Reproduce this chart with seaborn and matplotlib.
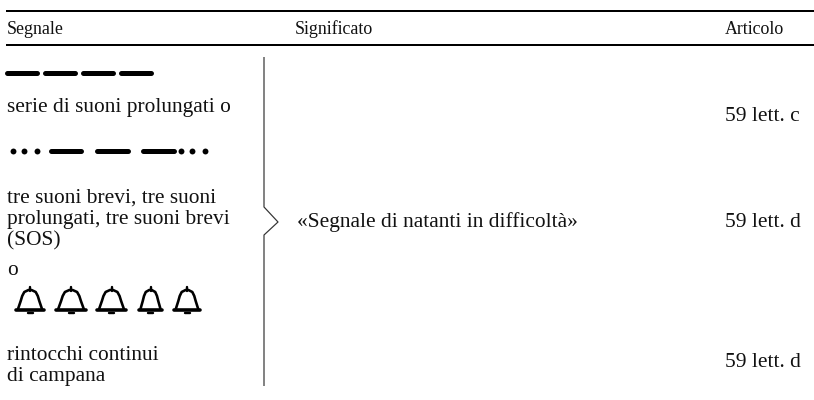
import matplotlib
matplotlib.use('Agg')
import matplotlib.pyplot as plt
import seaborn as sns
import numpy as np

sns.set_style('white')
plt.rcParams['font.family'] = ['Liberation Serif', 'DejaVu Serif']

# table text
headers = ['Segnale', 'Significato', 'Articolo']
header_x = [7, 295, 725]
left_lines = ['serie di suoni prolungati o',
              'tre suoni brevi, tre suoni',
              'prolungati, tre suoni brevi',
              '(SOS)',
              'o',
              'rintocchi continui',
              'di campana']
left_y = [112, 203, 224, 245, 275, 360, 381]
meaning = '«Segnale di natanti in difficoltà»'
articles = ['59 lett. c', '59 lett. d', '59 lett. d']
article_y = [121, 227, 367]

# morse strokes
long_row1 = [(5, 39), (43, 77), (81, 115), (119, 153)]
long_row2 = [(49, 83), (95, 130), (141, 176)]
dots_row2 = [13, 24, 37, 181, 192, 205]

# brace line, top to bottom
brace_x = [264, 264, 278, 264, 264]
brace_y = [57, 207, 222, 235, 386]

# bell outline, relative to bell centre and lip
bell_x = [-0.8, -0.62, -0.52, -0.38, -0.1, 0.1, 0.38, 0.52, 0.62, 0.8]
bell_y = [-1, -9, -14, -18, -20, -20, -18, -14, -9, -1]
bell_centres = [30, 71, 111.5, 150.5, 187]
bell_half = [15, 16, 15.5, 12.5, 14]


def stroke(ax, xs, ys, width, color='black', cap='round'):
    sns.lineplot(x=xs, y=ys, sort=False, estimator=None, color=color,
                 linewidth=width * 0.72, solid_capstyle=cap,
                 solid_joinstyle='round', ax=ax)


fig, ax = plt.subplots(figsize=(8.14, 4), dpi=100)
fig.subplots_adjust(0, 0, 1, 1)

for y in [11, 45]:
    stroke(ax, [6, 814], [y, y], 2, cap='butt')

for x, h in zip(header_x, headers):
    ax.text(x, 34, h, fontsize=12.9, va='baseline', ha='left', color='#111111')

for y, t in zip(left_y, left_lines):
    ax.text(7, y, t, fontsize=15.4, va='baseline', ha='left', color='#111111')

ax.text(297, 227, meaning, fontsize=15.4, va='baseline', ha='left', color='#111111')
for y, t in zip(article_y, articles):
    ax.text(725, y, t, fontsize=15.4, va='baseline', ha='left', color='#111111')

stroke(ax, brace_x, brace_y, 1.2, color='#333333', cap='butt')

for a, b in long_row1:
    stroke(ax, [a + 2, b - 2], [72.5, 72.5], 5)
for a, b in long_row2:
    stroke(ax, [a + 2, b - 2], [151, 151], 5)
sns.scatterplot(x=dots_row2, y=[151] * len(dots_row2), s=18, color='black',
                linewidth=0, ax=ax)

for c, h in zip(bell_centres, bell_half):
    bx = c + np.array(bell_x) * h
    by = 310 + np.array(bell_y)
    stroke(ax, bx, by, 2.6)
    stroke(ax, [c - h + 1, c + h - 1], [310, 310], 3.6)
    stroke(ax, [c, c], [287, 291], 2.4)
    stroke(ax, [c - 2.5, c + 2.5], [312.5, 312.5], 2.4)

ax.set_xlim(0, 814)
ax.set_ylim(400, 0)
ax.axis('off')
fig.savefig('out.png', dpi=100)
